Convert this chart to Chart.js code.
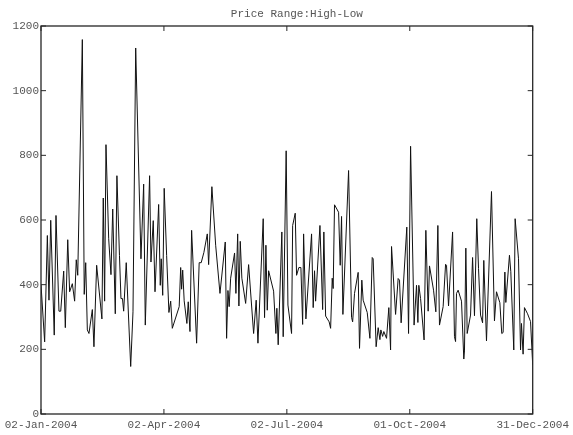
<!DOCTYPE html>
<html>
<head>
<meta charset="utf-8">
<script src="https://cdn.jsdelivr.net/npm/chart.js@4/dist/chart.umd.min.js"></script>
<style>
  html, body { margin: 0; padding: 0; background: #fff; }
  canvas { display: block; }
</style>
</head>
<body>
<canvas id="rangeChart" width="573" height="435"></canvas>
<script>
// days counted from 02-Jan-2004 for each sample
const days = [
  0, 2.7, 4.7, 5.9, 7.2, 9.8, 11.1, 13.3, 14.6, 16.8, 18.0, 19.8, 21.2, 23.2, 24.9, 26.1, 27.2,
  30.6, 32.0, 33.1, 34.3, 35.5, 38.0, 39.2, 41.2, 45.1, 46.1, 47.1, 48.1, 50.1, 51.8, 53.1,
  55.0, 56.2, 58.1, 59.2, 60.3, 61.2, 63.1, 64.8, 66.4, 68.1, 70.1, 74.0, 76.0, 77.2, 80.4,
  81.4, 83.1, 84.4, 87.1, 88.3, 89.0, 90.1, 91.2, 93.0, 94.7, 96.0, 97.2, 102.3, 103.4, 104.1,
  104.9, 106.0, 108.0, 109.0, 110.3, 111.5, 115.2, 117.1, 118.6, 120.6, 123.1, 124.1, 126.5,
  129.3, 132.5, 136.4, 137.4, 138.4, 139.3, 140.4, 143.3, 144.3, 145.6, 146.5, 147.5, 148.7,
  151.5, 153.7, 157.4, 159.3, 160.6, 164.5, 165.5, 166.5, 167.5, 168.5, 172.2, 173.9, 174.6,
  175.6, 178.3, 179.3, 181.5, 182.8, 185.5, 186.3, 188.2, 189.2, 190.9, 192.4, 193.7, 194.4,
  196.1, 200.3, 201.5, 202.5, 203.3, 206.5, 208.5, 209.4, 210.7, 213.3, 214.4, 215.6, 216.3,
  217.3, 220.3, 221.5, 222.5, 223.5, 227.7, 229.9, 230.7, 232.1, 234.8, 235.8, 237.5, 238.5,
  241.5, 243.5, 245.2, 245.9, 248.1, 249.6, 250.9, 251.6, 252.9, 253.8, 255.8, 257.5, 258.8,
  259.5, 262.5, 264.4, 265.4, 266.6, 270.8, 272.1, 273.6, 276.2, 278.0, 279.0, 279.7, 281.0,
  283.6, 284.9, 286.6, 287.6, 290.6, 292.3, 293.8, 295.0, 297.7, 299.5, 300.2, 301.7, 304.7,
  306.1, 306.9, 307.6, 308.8, 311.3, 313.0, 313.5, 314.5, 315.5, 318.0, 319.5, 320.9, 322.6,
  323.9, 325.4, 326.9, 327.8, 329.8, 333.5, 335.7, 337.2, 339.7, 341.1, 342.1, 343.4, 344.1,
  346.8, 347.8, 350.0, 351.0, 353.5, 355.0, 355.7, 356.9, 357.9, 360.2, 362.4, 364
];

// daily high minus low
const highLow = [
  400, 223, 552, 352, 599, 244, 614, 318, 318, 442, 267, 539, 378, 403, 349, 477, 429,
  1158, 370, 468, 260, 249, 323, 208, 460, 294, 668, 349, 833, 542, 431, 634,
  310, 737, 490, 357, 357, 318, 468, 300, 147, 316, 1132, 480, 711, 275, 737,
  470, 598, 378, 648, 398, 480, 367, 698, 490, 314, 349, 265, 332, 453, 386,
  445, 350, 280, 347, 255, 568, 219, 468, 468, 500, 557, 462, 703,
  522, 373, 532, 234, 382, 332, 420, 498, 373, 557, 334, 534, 420,
  342, 462, 249, 352, 219, 604, 298, 522, 321, 443, 380, 249, 327,
  214, 563, 239, 814, 337, 249, 583, 621, 429, 453, 453, 277, 557,
  294, 557, 329, 443, 349, 583, 323, 563, 303, 285, 265, 420, 388,
  647, 624, 460, 611, 308, 753, 299, 285, 373, 438, 203, 414, 352,
  314, 234, 484, 480, 208, 267, 230, 260, 240, 255, 234, 329, 198,
  518, 308, 419, 414, 282, 578, 249, 828, 275, 398, 283, 398, 357,
  229, 568, 318, 458, 383, 316, 583, 275, 332, 463, 460, 334, 563,
  239, 224, 373, 383, 349, 170, 195, 513, 249, 306, 484, 304, 604,
  450, 306, 282, 475, 226, 688, 288, 378, 344, 249, 252, 439, 345,
  491, 440, 198, 604, 480, 198, 280, 185, 329, 310, 286, 152
];

const tickDays = [0, 91, 182, 273, 364];
const tickLabels = ['02-Jan-2004', '02-Apr-2004', '02-Jul-2004', '01-Oct-2004', '31-Dec-2004'];
const yTicks = [0, 200, 400, 600, 800, 1000, 1200];
const chartTitle = 'Price Range:High-Low';

const monoFont = { family: '"Liberation Mono", "DejaVu Sans Mono", monospace', size: 11 };

// box round the axes, inward tick marks and the title
const frame = {
   id: 'frame',
   afterDraw(chart) {
      const { ctx, chartArea: a, scales: { x, y } } = chart;
      ctx.save();
      ctx.strokeStyle = '#262626';
      ctx.lineWidth = 1.3;
      ctx.strokeRect(a.left, a.top, a.right - a.left, a.bottom - a.top);
      ctx.lineWidth = 1;
      ctx.beginPath();
      tickDays.forEach(d => {
         const px = x.getPixelForValue(d);
         ctx.moveTo(px, a.bottom); ctx.lineTo(px, a.bottom - 5);
         ctx.moveTo(px, a.top); ctx.lineTo(px, a.top + 5);
      });
      yTicks.forEach(v => {
         const py = y.getPixelForValue(v);
         ctx.moveTo(a.left, py); ctx.lineTo(a.left + 5, py);
         ctx.moveTo(a.right, py); ctx.lineTo(a.right - 5, py);
      });
      ctx.stroke();

      ctx.fillStyle = '#555';
      ctx.font = '11px ' + monoFont.family;
      ctx.textAlign = 'center';
      ctx.textBaseline = 'middle';
      ctx.fillText(chartTitle, (a.left + a.right) / 2 + 10, a.top - 12);
      ctx.restore();
   }
};

new Chart(document.getElementById('rangeChart'), {
   type: 'line',
   data: {
      datasets: [{
         data: days.map((d, i) => ({ x: d, y: highLow[i] })),
         borderColor: '#111',
         borderWidth: 1,
         pointRadius: 0,
         tension: 0,
         fill: false
      }]
   },
   options: {
      responsive: false,
      animation: false,
      layout: { padding: { top: 26, right: 39, left: 0, bottom: 0 } },
      plugins: {
         legend: { display: false },
         tooltip: { enabled: false },
         title: { display: false }
      },
      scales: {
         x: {
            type: 'linear',
            min: 0,
            max: 364,
            afterBuildTicks: s => { s.ticks = tickDays.map(v => ({ value: v })); },
            afterFit: s => { s.height = 21; },
            grid: { display: false, drawTicks: false },
            border: { display: false },
            ticks: {
               callback: v => tickLabels[tickDays.indexOf(v)],
               font: monoFont,
               color: '#555',
               padding: 4,
               maxRotation: 0,
               autoSkip: false
            }
         },
         y: {
            min: 0,
            max: 1200,
            afterBuildTicks: s => { s.ticks = yTicks.map(v => ({ value: v })); },
            afterFit: s => { s.width = 41; },
            grid: { display: false, drawTicks: false },
            border: { display: false },
            ticks: {
               callback: v => String(v),
               font: monoFont,
               color: '#555',
               padding: 2
            }
         }
      }
   },
   plugins: [frame]
});
</script>
</body>
</html>
